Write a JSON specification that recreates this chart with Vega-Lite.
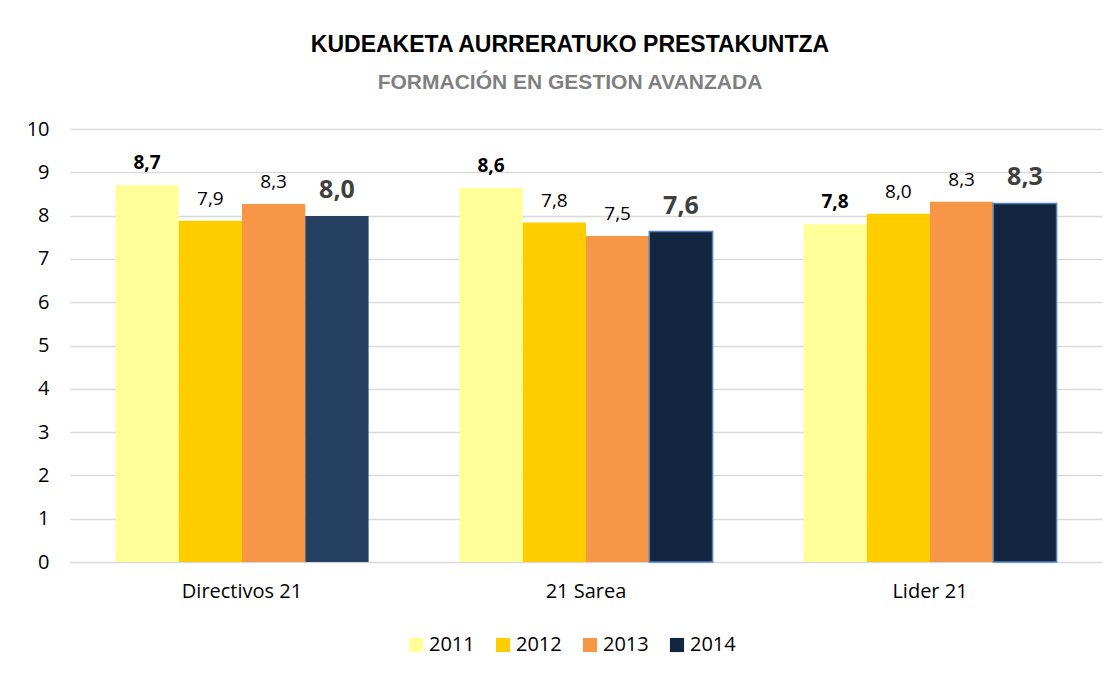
{
  "$schema": "https://vega.github.io/schema/vega-lite/v6.json",
  "autosize": {"type": "none"},
  "width": 1032,
  "height": 433,
  "padding": {"left": 70, "top": 129, "right": 18, "bottom": 113},
  "background": "white",
  "config": {
    "locale": {"number": {"decimal": ",", "thousands": ".", "grouping": [3], "currency": ["", " €"]}},
    "view": {"stroke": null},
    "font": "Open Sans"
  },
  "title": {
    "text": "KUDEAKETA AURRERATUKO PRESTAKUNTZA",
    "subtitle": "FORMACIÓN EN GESTION AVANZADA",
    "font": "Liberation Sans",
    "fontSize": 23,
    "fontWeight": "bold",
    "color": "#000000",
    "subtitleFont": "Liberation Sans",
    "subtitleFontSize": 21,
    "subtitleFontWeight": "bold",
    "subtitleColor": "#7F7F7F",
    "subtitlePadding": 15,
    "anchor": "middle",
    "dx": -16,
    "offset": 26
  },
  "data": {
    "values": [
      {"program": "Directivos 21", "year": "2011", "score": 8.7},
      {"program": "Directivos 21", "year": "2012", "score": 7.88},
      {"program": "Directivos 21", "year": "2013", "score": 8.27},
      {"program": "Directivos 21", "year": "2014", "score": 7.99},
      {"program": "21 Sarea", "year": "2011", "score": 8.64},
      {"program": "21 Sarea", "year": "2012", "score": 7.84},
      {"program": "21 Sarea", "year": "2013", "score": 7.53},
      {"program": "21 Sarea", "year": "2014", "score": 7.63},
      {"program": "Lider 21", "year": "2011", "score": 7.8},
      {"program": "Lider 21", "year": "2012", "score": 8.04},
      {"program": "Lider 21", "year": "2013", "score": 8.32},
      {"program": "Lider 21", "year": "2014", "score": 8.28}
    ]
  },
  "encoding": {
    "x": {
      "field": "program", "type": "nominal", "sort": ["Directivos 21", "21 Sarea", "Lider 21"],
      "scale": {"paddingInner": 0.264, "paddingOuter": 0.132},
      "axis": {"title": null, "labelAngle": 0, "domain": false, "ticks": false, "labelPadding": 19, "labelFontSize": 20, "labelColor": "#000000", "labelFont": "Open Sans"}
    },
    "xOffset": {"field": "year", "type": "nominal", "scale": {"paddingInner": 0, "paddingOuter": 0}},
    "y": {
      "field": "score", "type": "quantitative",
      "scale": {"domain": [0, 10], "nice": false},
      "axis": {"title": null, "values": [0,1,2,3,4,5,6,7,8,9,10], "domain": false, "ticks": false, "labelPadding": 21, "labelFontSize": 20, "labelColor": "#000000", "gridColor": "#D9D9D9", "gridWidth": 1.3, "labelFont": "Open Sans"}
    }
  },
  "layer": [
    {
      "mark": {"type": "bar", "strokeWidth": 1.5},
      "encoding": {
        "fill": {
          "condition": {"test": "datum.program === 'Directivos 21' && datum.year === '2014'", "value": "#243F60"},
          "field": "year", "type": "nominal",
          "scale": {"domain": ["2011", "2012", "2013", "2014"], "range": ["#FFFF99", "#FFCC00", "#F79646", "#12263F"]},
          "legend": {
            "title": null, "orient": "none", "direction": "horizontal",
            "legendX": 336, "legendY": 506,
            "symbolType": "square", "symbolSize": 200, "symbolStrokeWidth": 0,
            "labelFontSize": 20, "labelFont": "Open Sans", "labelColor": "#000000", "labelOffset": 3,
            "columnPadding": 18,
            "encode": {"symbols": {"update": {"stroke": {"signal": "datum.value === '2014' ? '#4F81BD' : 'transparent'"}, "strokeWidth": {"value": 1.5}}}}
          }
        },
        "stroke": {
          "condition": {"test": "datum.year === '2014' && datum.program !== 'Directivos 21'", "value": "#4F81BD"},
          "value": null
        }
      }
    },
    {
      "transform": [{"filter": "datum.year === '2011'"}],
      "mark": {"type": "text", "baseline": "alphabetic", "dy": -16, "fontSize": 19, "fontWeight": "bold", "color": "#000000", "font": "Open Sans"},
      "encoding": {"text": {"field": "score", "type": "quantitative", "format": ".1f"}}
    },
    {
      "transform": [{"filter": "datum.year === '2012' || datum.year === '2013'"}],
      "mark": {"type": "text", "baseline": "alphabetic", "dy": -16, "fontSize": 19, "color": "#000000", "font": "Open Sans"},
      "encoding": {"text": {"field": "score", "type": "quantitative", "format": ".1f"}}
    },
    {
      "transform": [{"filter": "datum.year === '2014'"}],
      "mark": {"type": "text", "baseline": "alphabetic", "dy": -18, "fontSize": 25, "fontWeight": "bold", "color": "#404040", "font": "Open Sans"},
      "encoding": {"text": {"field": "score", "type": "quantitative", "format": ".1f"}}
    }
  ]
}
